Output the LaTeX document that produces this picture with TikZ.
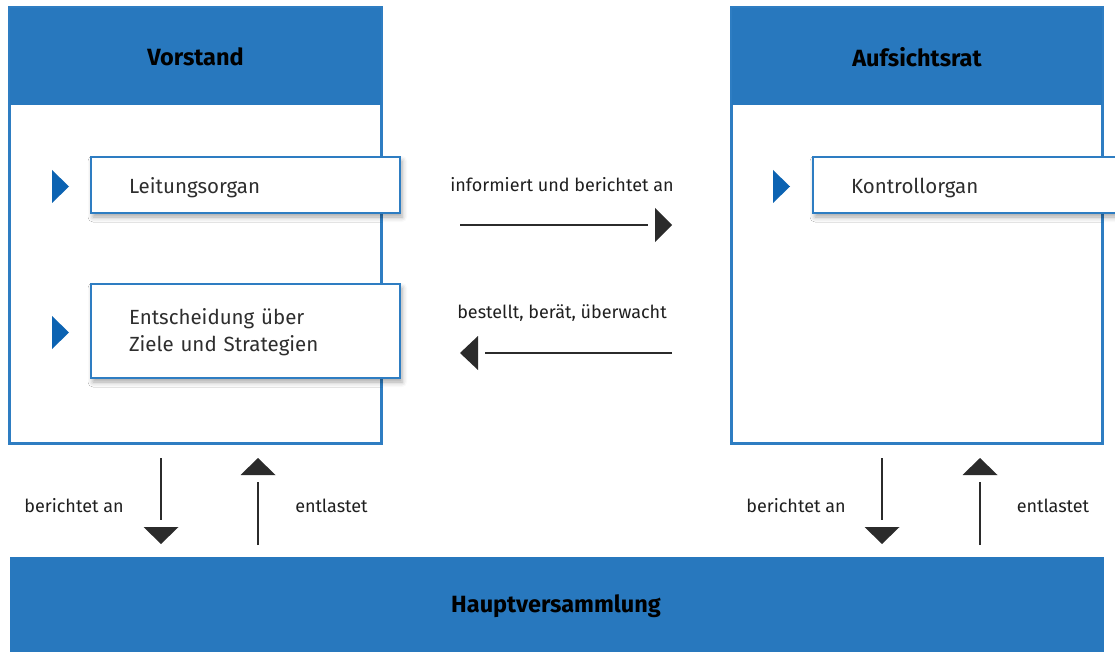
\documentclass[tikz,border=0pt]{standalone}
\usepackage{fontspec}
\setmainfont{Fira Sans}
\usetikzlibrary{shadows.blur}
\definecolor{hdrblue}{HTML}{2878BE}
\definecolor{brdblue}{HTML}{2E7DC2}
\definecolor{mkblue}{HTML}{0C63B2}
\definecolor{txtgray}{HTML}{2E2E2E}
\definecolor{arrgray}{HTML}{2B2B2B}
\tikzset{
  outerbox/.style={draw=brdblue, line width=1.8pt, fill=white, inner sep=0pt},
  hdrtext/.style={font=\fontsize{23.5}{28}\selectfont\bfseries, text=black},
  inbox/.style={draw=brdblue, line width=1.8pt, fill=white, inner xsep=38pt, inner ysep=0pt,
    text width=233pt, align=left, font=\fontsize{20.5}{27}\selectfont, text=txtgray,
    blur shadow={shadow xshift=2pt, shadow yshift=-4pt, shadow blur radius=5pt, shadow opacity=35}},
  lbl/.style={font=\fontsize{18}{22}\selectfont, text=black!88},
  arrline/.style={draw=arrgray, line width=1.8pt},
  arrtip/.style={fill=arrgray},
  marker/.style={fill=mkblue}
}
\begin{document}
\begin{tikzpicture}[x=1pt,y=-1pt]
\useasboundingbox (0,0) rectangle (1115,652);
% Vorstand
\node[outerbox, minimum width=371pt, minimum height=435pt] (vor) at (195.5,225.5) {};
\fill[hdrblue] (vor.north west) rectangle ($(vor.north east)+(0,98)$);
\draw[brdblue, line width=1.8pt] (vor.north west) rectangle (vor.south east);
\node[hdrtext] (vorh) at (195.5,57) {Vorstand};
% Aufsichtsrat
\node[outerbox, minimum width=370pt, minimum height=435pt] (auf) at (917,225.5) {};
\fill[hdrblue] (auf.north west) rectangle ($(auf.north east)+(0,98)$);
\draw[brdblue, line width=1.8pt] (auf.north west) rectangle (auf.south east);
\node[hdrtext] (aufh) at (917,57) {Aufsichtsrat};
% inner boxes
\node[inbox, minimum height=56pt] (lei) at (245.5,185) {\raisebox{-3pt}[\height][\depth]{Leitungsorgan}};
\node[inbox, minimum height=94pt] (ent) at (245.5,331) {\raisebox{-1.5pt}[\height][\depth]{Entscheidung über}\\\raisebox{-1.5pt}[\height][\depth]{Ziele und Strategien}};
\node[inbox, minimum height=56pt] (kon) at (967.5,185) {\raisebox{-3pt}[\height][\depth]{Kontrollorgan}};
% markers
\fill[marker] (52,170) -- (52,203) -- (69,186.5) -- cycle;
\fill[marker] (52,316) -- (52,349) -- (69,332.5) -- cycle;
\fill[marker] (773,170) -- (773,203) -- (790,186.5) -- cycle;
% Hauptversammlung
\node[fill=hdrblue, minimum width=1094pt, minimum height=105pt, inner sep=0pt] (hv) at (557,609.5) {};
\node[hdrtext] (hvt) at (556,606) {Hauptversammlung};
% middle arrows
\coordinate (m1s) at (460,225); \coordinate (m1e) at (648,225); \coordinate (m1t) at (672,225);
\draw[arrline] (m1s) -- (m1e);
\fill[arrtip] (m1t) -- ++(-17,-17) -- ++(0,34) -- cycle;
\node[lbl] (m1l) at (562,185) {informiert und berichtet an};
\coordinate (m2s) at (672,353); \coordinate (m2e) at (485,353); \coordinate (m2t) at (460,353);
\draw[arrline] (m2s) -- (m2e);
\fill[arrtip] (m2t) -- ++(18,-17) -- ++(0,34) -- cycle;
\node[lbl] (m2l) at (562,313) {bestellt, berät, überwacht};
% bottom arrows left
\coordinate (d1s) at (161,458); \coordinate (d1e) at (161,520); \coordinate (d1t) at (161,544);
\draw[arrline] (d1s) -- (d1e);
\fill[arrtip] (d1t) -- ++(-17.5,-17) -- ++(35,0) -- cycle;
\coordinate (u1s) at (258,545); \coordinate (u1e) at (258,482); \coordinate (u1t) at (258,458);
\draw[arrline] (u1s) -- (u1e);
\fill[arrtip] (u1t) -- ++(-17.5,17) -- ++(35,0) -- cycle;
\node[lbl] (b1) at (74,506) {berichtet an};
\node[lbl] (e1) at (331.5,506) {entlastet};
% bottom arrows right
\coordinate (d2s) at (882,458); \coordinate (d2e) at (882,520); \coordinate (d2t) at (882,544);
\draw[arrline] (d2s) -- (d2e);
\fill[arrtip] (d2t) -- ++(-17.5,-17) -- ++(35,0) -- cycle;
\coordinate (u2s) at (980,545); \coordinate (u2e) at (980,482); \coordinate (u2t) at (980,458);
\draw[arrline] (u2s) -- (u2e);
\fill[arrtip] (u2t) -- ++(-17.5,17) -- ++(35,0) -- cycle;
\node[lbl] (b2) at (796,506) {berichtet an};
\node[lbl] (e2) at (1053,506) {entlastet};
\end{tikzpicture}
\end{document}
